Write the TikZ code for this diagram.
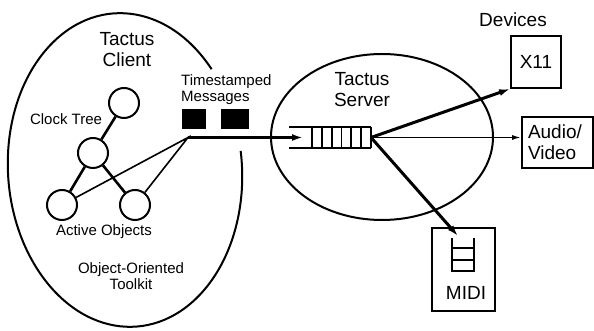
\documentclass[tikz,border=0pt]{standalone}
\usepackage{fontspec}
\setmainfont{Liberation Sans}
\usetikzlibrary{arrows.meta,positioning,calc}

\newcommand{\bigtxt}{\fontsize{19}{21}\selectfont}
\newcommand{\smalltxt}{\fontsize{15}{16}\selectfont}

\begin{document}
\begin{tikzpicture}[x=1pt, y=1pt,
    every node/.style={inner sep=0pt, align=center},
    obj/.style={draw, circle, line width=2pt, minimum size=30pt},
    tree/.style={line width=2.6pt},
    link/.style={line width=1.6pt},
    dev/.style={draw, line width=1.8pt, font=\bigtxt},
    msg/.style={fill=black, minimum height=20pt},
    fatarrow/.style={line width=3pt, -{Latex[length=11pt,width=7pt]}}
]
    \useasboundingbox (0,0) rectangle (594,331);

    % client, left open where the messages leave
    \draw[line width=2pt, shift={(125,161)}, rotate=4]
        (37:117pt and 157pt) arc[start angle=37, end angle=364, x radius=117pt, y radius=157pt];
    \node[font=\bigtxt] (client) at (127,281) {Tactus\\Client};

    % clock tree of active objects
    \node[obj] (root) at (124,228) {};
    \node[obj] (mid) at (93,178) {};
    \node[obj] (leftobj) at (62,126) {};
    \node[obj] (rightobj) at (135,126) {};
    \draw[tree] (root) -- (mid);
    \draw[tree] (mid) -- (leftobj);
    \draw[tree] (mid) -- (rightobj);
    \node[font=\smalltxt] (treelabel) at (66,212) {Clock Tree};
    \node[font=\smalltxt] (objlabel) at (104,99) {Active Objects};
    \node[font=\smalltxt] (toolkit) at (131,55) {Object-Oriented\\Toolkit};

    % messages
    \coordinate (send) at (188,193.5);
    \coordinate (qin) at (303,193.5);
    \draw[link] (leftobj) -- (send) -- (rightobj);
    \node[msg, minimum width=24pt] (msgA) at (193.5,211.5) {};
    \node[msg, minimum width=28pt] (msgB) at (235,211.5) {};
    \node[font=\smalltxt, align=left, anchor=west] (stamp) at (181,241.5) {Timestamped\\Messages};
    \draw[fatarrow] (send) -- (qin);

    % server with its queue
    \draw[line width=2pt] (382,194) ellipse[x radius=111, y radius=83];
    \node[font=\bigtxt] (server) at (362,241) {Tactus\\Server};
    \draw[line width=1.8pt] (289,204) -- (371,204) (289,183) -- (371,183);
    \foreach \i in {0,...,6}
        \draw[line width=1.8pt] ({312+9.8*\i},204) -- ++(0,-21);
    \coordinate (qout) at (371,193.5);

    % devices
    \node[font=\bigtxt] (devices) at (513,311) {Devices};
    \node[dev, minimum width=50pt, minimum height=52pt] (x11) at (536,269) {X11};
    \node[dev, minimum width=71pt, minimum height=51pt, text width=59pt, align=left] (av) at (557.5,188.5) {Audio/\\Video};
    \node[dev, minimum width=63pt, minimum height=83pt] (midi) at (463.5,61.5) {};
    \node[font=\bigtxt] (miditxt) at (466,38) {MIDI};
    \draw[line width=1.8pt] (452,93) -- (452,60) -- (474,60) -- (474,93)
        (452,83) -- (474,83) (452,71) -- (474,71);
    \coordinate (midiin) at (458,95);

    \draw[fatarrow] (qout) -- (x11.south west);
    \draw[line width=1.6pt, -{Latex[length=9pt,width=5pt]}] (qout) -- (qout -| av.west);
    \draw[fatarrow] (qout) -- (midiin);
\end{tikzpicture}
\end{document}
